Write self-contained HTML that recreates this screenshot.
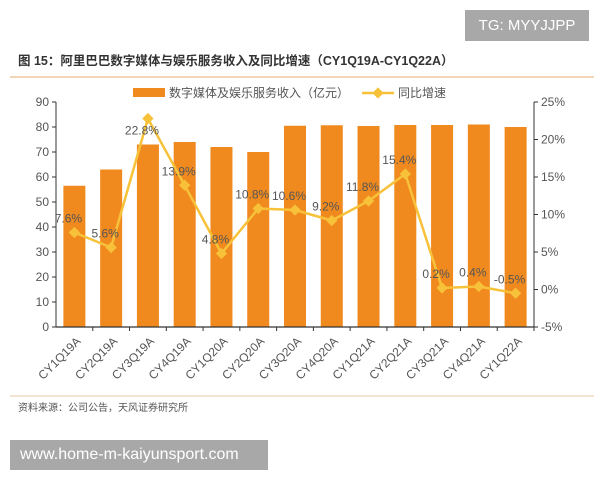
<!DOCTYPE html>
<html><head><meta charset="utf-8">
<style>
body{margin:0;width:600px;height:480px;background:#fff;position:relative;overflow:hidden;font-family:"Liberation Sans","Noto Sans CJK SC",sans-serif;}
.tg{position:absolute;left:465px;top:10px;width:124px;height:31px;background:#a8a8a8;color:#fff;font-size:15px;line-height:31px;text-align:center;}
.wm{position:absolute;left:10px;top:440px;width:258px;height:30px;background:#a8a8a8;color:#fff;font-size:16px;line-height:30px;padding-left:10px;box-sizing:border-box;}
</style></head><body>
<div class="tg">TG: MYYJJPP</div>
<svg width="600" height="480" style="position:absolute;left:0;top:0" id="chart">
<text x="18" y="65" font-size="12.5" font-weight="bold" fill="#333">图 15：阿里巴巴数字媒体与娱乐服务收入及同比增速（CY1Q19A-CY1Q22A）</text>
<line x1="10" y1="77" x2="594" y2="77" stroke="#f2c7a0" stroke-width="1.5"/>
<g>
<rect x="133" y="88" width="32" height="9" fill="#f08a1e"/>
<text x="169" y="97" font-size="12" fill="#555">数字媒体及娱乐服务收入（亿元）</text>
<line x1="362" y1="93" x2="394" y2="93" stroke="#f7c23a" stroke-width="2.5"/>
<rect x="374" y="89" width="8" height="8" fill="#f7c23a" transform="rotate(45 378 93)"/>
<text x="398" y="97" font-size="12" fill="#555">同比增速</text>
</g>
<g id="plot"></g>
<line x1="10" y1="396" x2="594" y2="396" stroke="#f2dcc4" stroke-width="1.5"/>
<text x="18" y="411" font-size="10" fill="#555">资料来源：公司公告，天风证券研究所</text>
</svg>
<div class="wm">www.home-m-kaiyunsport.com</div>
<script>
const categories=["CY1Q19A","CY2Q19A","CY3Q19A","CY4Q19A","CY1Q20A","CY2Q20A","CY3Q20A","CY4Q20A","CY1Q21A","CY2Q21A","CY3Q21A","CY4Q21A","CY1Q22A"];
const revenue=[56.5,63,73,74,72,70,80.5,80.7,80.4,80.8,80.8,81,80];
const growth=[7.6,5.6,22.8,13.9,4.8,10.8,10.6,9.2,11.8,15.4,0.2,0.4,-0.5];
const growthLabels=["7.6%","5.6%","22.8%","13.9%","4.8%","10.8%","10.6%","9.2%","11.8%","15.4%","0.2%","0.4%","-0.5%"];
const leftTicks=[0,10,20,30,40,50,60,70,80,90];
const rightTicks=[-5,0,5,10,15,20,25];
const rightTickLabels=["-5%","0%","5%","10%","15%","20%","25%"];

const X0=56,X1=534,Y0=327,Y1=102;
const band=(X1-X0)/categories.length;
const xc=i=>X0+band*(i+0.5);
const yL=v=>Y0-(v/90)*(Y0-Y1);
const yR=v=>Y0-((v+5)/30)*(Y0-Y1);
const NS="http://www.w3.org/2000/svg";
const g=document.getElementById('plot');
function mk(t,a){const e=document.createElementNS(NS,t);for(const k in a)e.setAttribute(k,a[k]);g.appendChild(e);return e;}

revenue.forEach((v,i)=>{
  const r=mk('rect',{x:xc(i)-11,y:yL(v),width:22,height:Y0-yL(v),fill:'#f08a1e'});
  
  
});
let a=mk('line',{x1:X0,y1:Y1,x2:X0,y2:Y0,stroke:'#333','stroke-width':1});

a=mk('line',{x1:X1,y1:Y1,x2:X1,y2:Y0,stroke:'#333','stroke-width':1});

a=mk('line',{x1:X0,y1:Y0,x2:X1,y2:Y0,stroke:'#333','stroke-width':1.2});

leftTicks.forEach(v=>{
  mk('line',{x1:X0-4,y1:yL(v),x2:X0,y2:yL(v),stroke:'#333'});
  const t=mk('text',{x:X0-7,y:yL(v)+4,'font-size':12,fill:'#555','text-anchor':'end'});t.textContent=v;
  
});
rightTicks.forEach((v,i)=>{
  mk('line',{x1:X1,y1:yR(v),x2:X1+4,y2:yR(v),stroke:'#333'});
  const t=mk('text',{x:X1+7,y:yR(v)+4,'font-size':12,fill:'#555'});t.textContent=rightTickLabels[i];
  
});
categories.forEach((c,i)=>{
  mk('line',{x1:X0+band*(i+1),y1:Y0,x2:X0+band*(i+1),y2:Y0+4,stroke:'#333'});
  const x=xc(i)+7,y=Y0+15;
  const t=mk('text',{x:x,y:y,'font-size':12,fill:'#555','text-anchor':'end',transform:`rotate(-45 ${x} ${y})`});
  t.textContent=c;
  
});
const pts=growth.map((v,i)=>xc(i)+','+yR(v)).join(' ');
const pl=mk('polyline',{points:pts,fill:'none',stroke:'#f7c23a','stroke-width':2.5});

growth.forEach((v,i)=>{
  const m=mk('rect',{x:xc(i)-4,y:yR(v)-4,width:8,height:8,fill:'#f7c23a',transform:`rotate(45 ${xc(i)} ${yR(v)})`});
  
  const below=(i===2);
  const t=mk('text',{x:xc(i)-6,y:below?yR(v)+16:yR(v)-10,'font-size':12,fill:'#555','text-anchor':'middle'});
  t.textContent=growthLabels[i];
  
});
</script>
</body></html>
